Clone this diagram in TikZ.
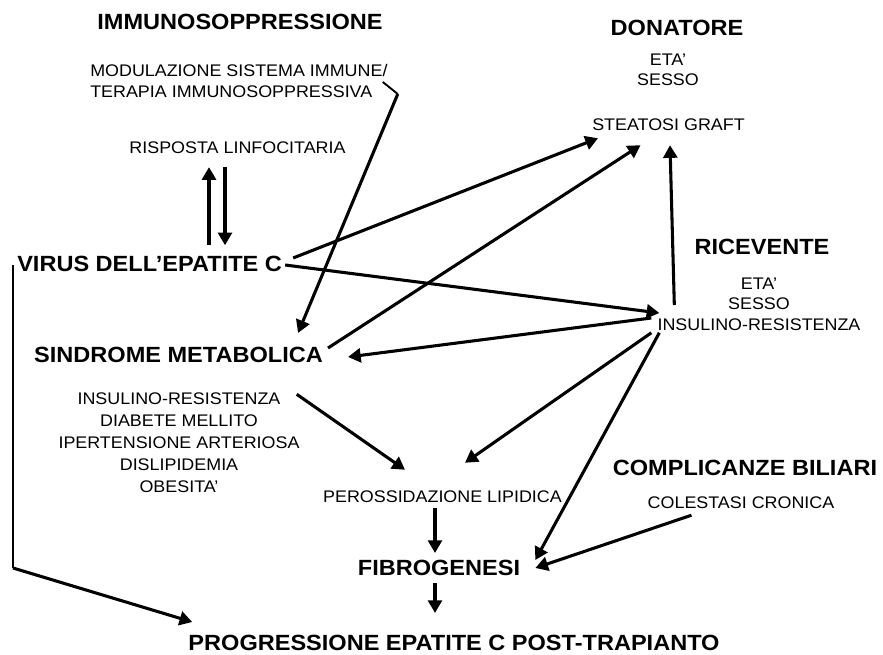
\documentclass[tikz,border=0pt]{standalone}
\usepackage{fontspec}
\newfontfamily\lblfont{Liberation Sans}[FakeStretch=1.065]
\newfontfamily\hdfont{Liberation Sans Bold}[FakeStretch=1.07]
\usetikzlibrary{arrows.meta, calc}

\begin{document}
\begin{tikzpicture}[x=0.75pt, y=-0.75pt, >={Triangle[length=9.5pt, width=10.5pt]},
  head/.style={font=\hdfont\fontsize{16.5}{19}\selectfont, inner sep=0pt},
  item/.style={font=\lblfont\fontsize{12.6}{15.5}\selectfont, inner sep=0pt, align=center},
  arr/.style={->, line width=2.3pt},
  thinline/.style={line width=1.4pt}]
  \useasboundingbox (0,0) rectangle (883,655);
  % headings and factors
  \node[head] (immuno) at (240,22) {IMMUNOSOPPRESSIONE};
  \node[item, align=left, anchor=west] (modul) at (90,81) {MODULAZIONE SISTEMA IMMUNE/\\TERAPIA IMMUNOSOPPRESSIVA};
  \node[item] (risposta) at (237.5,148) {RISPOSTA LINFOCITARIA};
  \node[head, anchor=west] (virus) at (17,264) {VIRUS DELL’EPATITE C};
  \node[head] (sindrome) at (178.5,355) {SINDROME METABOLICA};
  \node[item, font=\lblfont\fontsize{12.6}{16.5}\selectfont] (sindlist) at (179,442.5) {INSULINO-RESISTENZA\\DIABETE MELLITO\\IPERTENSIONE ARTERIOSA\\DISLIPIDEMIA\\OBESITA’};
  \node[item] (perox) at (442.5,497) {PEROSSIDAZIONE LIPIDICA};
  \node[head] (fibro) at (439,568) {FIBROGENESI};
  \node[head] (progr) at (454,643) {PROGRESSIONE EPATITE C POST-TRAPIANTO};
  \node[head] (donatore) at (677,28) {DONATORE};
  \node[item, font=\lblfont\fontsize{12.6}{15}\selectfont] (donlist) at (668,70) {ETA’\\SESSO};
  \node[item] (steatosi) at (668.5,125) {STEATOSI GRAFT};
  \node[head] (ricevente) at (762,247) {RICEVENTE};
  \node[item] (riclist) at (759,304) {ETA’\\SESSO\\INSULINO-RESISTENZA};
  \node[head] (biliari) at (745,468) {COMPLICANZE BILIARI};
  \node[item] (colestasi) at (741,503) {COLESTASI CRONICA};
  % links
  \draw[arr] ($(risposta.south)+(-28.5,91)$) -- ($(risposta.south)+(-28.5,13)$);
  \draw[arr] ($(risposta.south)+(-12.5,13)$) -- ($(risposta.south)+(-12.5,91)$);
  \draw[thinline] ($(modul.east)+(-5,1)$) -- ++(15,12) coordinate (modkink);
  \draw[arr] (modkink) -- ($(sindrome.north east)+(-25,-14)$);
  \draw[arr] ($(virus.east)+(11,-6)$) -- ($(steatosi.south west)+(6,7)$);
  \draw[arr] ($(sindrome.east)+(5,-7)$) -- ($(steatosi.south)+(-28,14)$);
  \draw[arr] ($(riclist.west)+(17,1)$) -- ($(steatosi.south)+(1.5,14)$);
  \draw[arr] ($(virus.east)+(3,1)$) -- ($(riclist.west)+(2,9)$);
  \draw[arr] ($(riclist.west)+(-6,14)$) -- ($(sindrome.east)+(25,2)$);
  \draw[arr] ($(riclist.south west)+(-6,2)$) -- ($(perox.north)+(22.5,-28)$);
  \draw[arr] ($(riclist.south west)+(2,2)$) -- ($(fibro.east)+(15,-8)$);
  \draw[arr] ($(colestasi.south west)+(44,6)$) -- ($(fibro.east)+(15,0)$);
  \draw[arr] ($(sindlist.north east)+(-3,2)$) -- ($(perox.north)+(-37.5,-21)$);
  \draw[arr] ($(perox.south)+(-7.5,5)$) -- ($(fibro.north)+(-4,-7)$);
  \draw[arr] ($(fibro.south)+(-4,7)$) -- ($(progr.north)+(-19,-22)$);
  \draw[thinline] ($(virus.west)+(-4,1)$) -- ++(0,303) coordinate (virkink);
  \draw[arr] (virkink) -- ($(progr.west)+(4,-21)$);
\end{tikzpicture}
\end{document}
